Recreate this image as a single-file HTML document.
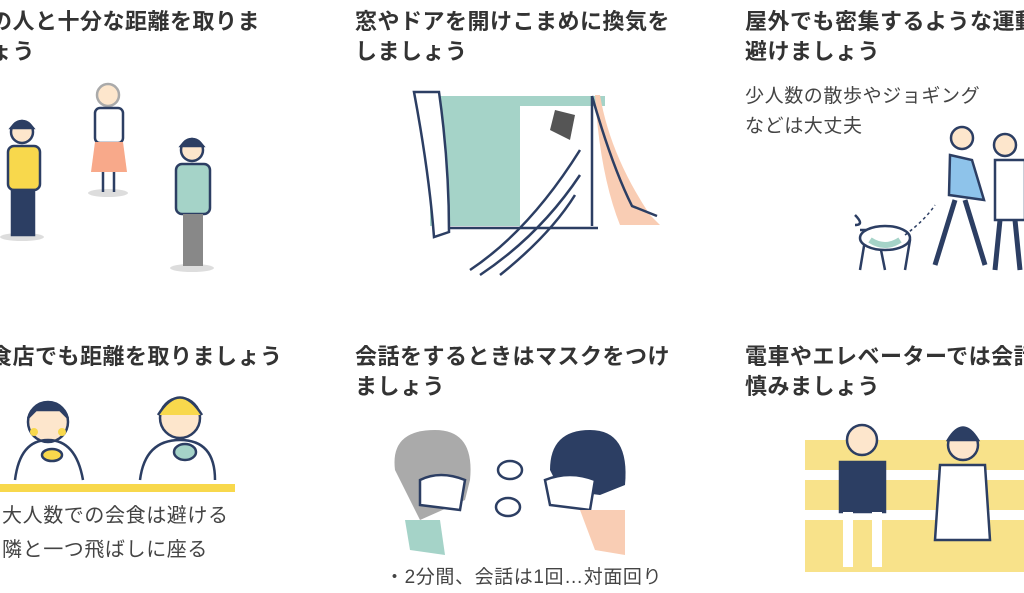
<!DOCTYPE html>
<html><head><meta charset="utf-8"><style>
body{margin:0;width:1024px;height:572px;overflow:hidden;background:#fff;position:relative;font-family:"Liberation Sans","Noto Sans CJK JP",sans-serif;color:#333}
.t{position:absolute;font-size:22px;font-weight:bold;line-height:30px;white-space:nowrap;letter-spacing:0.5px}
.s{position:absolute;font-size:19px;line-height:30px;white-space:nowrap;color:#444;letter-spacing:0.6px}
svg{position:absolute;left:0;top:0}
</style></head><body>
<div class="t" style="left:-10px;top:7px">の人と十分な距離を取りま<br>ょう</div>
<div class="t" style="left:355px;top:7px">窓やドアを開けこまめに換気を<br>しましょう</div>
<div class="t" style="left:745px;top:7px">屋外でも密集するような運動<br>避けましょう</div>
<div class="s" style="left:745px;top:82px">少人数の散歩やジョギング<br>などは大丈夫</div>
<div class="t" style="left:-10px;top:342px">食店でも距離を取りましょう</div>
<div class="t" style="left:355px;top:342px">会話をするときはマスクをつけ<br>ましょう</div>
<div class="t" style="left:745px;top:342px">電車やエレベーターでは会話<br>慎みましょう</div>
<div class="s" style="left:2px;top:499px;font-size:20px;line-height:34px">大人数での会食は避ける<br>隣と一つ飛ばしに座る</div>
<div class="s" style="left:385px;top:563px">・2分間、会話は1回…対面回り</div>
<svg width="1024" height="572" fill="none" stroke="#2c3e63" stroke-width="2.5">
<ellipse cx="22" cy="237" rx="22" ry="4" fill="#ddd" stroke="none"/>
<ellipse cx="108" cy="193" rx="20" ry="4" fill="#ddd" stroke="none"/>
<ellipse cx="192" cy="268" rx="22" ry="4" fill="#ddd" stroke="none"/>
<circle cx="22" cy="132" r="11" fill="#fde6cc"/><path d="M11 128q11-14 22 0z" fill="#2c3e63"/>
<rect x="8" y="146" width="32" height="44" rx="6" fill="#f8d84c"/>
<rect x="12" y="190" width="22" height="45" fill="#2c3e63"/>
<circle cx="108" cy="95" r="11" fill="#fde6cc" stroke="#aaa"/>
<rect x="95" y="108" width="28" height="35" rx="5" fill="#fff"/>
<path d="M95 142h28l4 30h-36z" fill="#f8a98a" stroke="none"/>
<path d="M103 172v20M114 172v20"/>
<circle cx="192" cy="150" r="11" fill="#fde6cc"/><path d="M181 146q11-14 22 0z" fill="#2c3e63"/>
<rect x="176" y="164" width="34" height="50" rx="6" fill="#a5d3c8"/>
<rect x="183" y="214" width="20" height="52" fill="#888" stroke="none"/>
<rect x="420" y="95" width="200" height="158" fill="#fff" stroke="none"/>
<rect x="430" y="96" width="90" height="130" fill="#a5d3c8" stroke="none"/>
<rect x="510" y="96" width="95" height="10" fill="#a5d3c8" stroke="none"/>
<path d="M592 96v130M438 228h160"/>
<path d="M414 92q15 80 20 145l15-5q0-70-10-140z" fill="#fff"/>
<path d="M600 95q10 60 50 120l10 10-40 0q-20-50-25-130z" fill="#f9cdb4" stroke="none"/>
<path d="M592 96q20 70 40 110l25 10"/>
<path d="M555 110l20 5-5 25-20-10z" fill="#555" stroke="none"/>
<path d="M470 270q60-40 110-120M480 275q60-40 100-100M500 275q50-40 75-80"/>
<circle cx="962" cy="138" r="11" fill="#fde6cc"/>
<path d="M950 155l22 5 12 40-35-5z" fill="#8ec3ea"/>
<path d="M955 200l-20 65M965 200l20 65" stroke-width="5"/>
<circle cx="1005" cy="145" r="11" fill="#fde6cc"/>
<path d="M995 160h30v60h-30z" fill="#fff"/>
<path d="M1000 220l-5 50M1015 220l5 50" stroke-width="5"/>
<path d="M855 215q10 10 0 10 M860 230h40l10 10-5 30M865 240l-5 30M880 245l5 25" fill="#fff"/>
<ellipse cx="885" cy="238" rx="25" ry="12" fill="#fff"/>
<path d="M870 240q15 10 30 0" stroke="#a5d3c8" stroke-width="6"/>
<path d="M905 235q20-15 30-30" stroke-width="1.5" stroke-dasharray="3 3"/>
<path d="M-10 488h245" stroke="#f8d84c" stroke-width="8"/>
<circle cx="48" cy="422" r="20" fill="#fde6cc"/><path d="M28 418q20-30 40 0l-8-8-24 0z" fill="#2c3e63"/>
<circle cx="34" cy="432" r="4" fill="#f8d84c" stroke="none"/><circle cx="62" cy="432" r="4" fill="#f8d84c" stroke="none"/>
<path d="M15 480q5-40 33-40t35 40"/>
<ellipse cx="52" cy="455" rx="10" ry="6" fill="#f8d84c"/>
<circle cx="180" cy="418" r="20" fill="#fde6cc"/><path d="M158 415q22-35 44 0" fill="#f8d84c"/>
<path d="M140 480q5-40 40-40t35 40"/>
<ellipse cx="185" cy="452" rx="11" ry="8" fill="#a5d3c8"/>
<path d="M395 470q-5-40 40-40q40 0 35 50l-5 20-45 20z" fill="#aaa" stroke="none"/>
<path d="M420 480q20-10 45 0l-5 30-40-5z" fill="#fff"/>
<path d="M405 520h35l5 35-35-5z" fill="#a5d3c8" stroke="none"/>
<path d="M590 430q-40 0-40 40l10 20 40 5 25-10q5-55-35-55z" fill="#2c3e63" stroke="none"/>
<path d="M545 480q25-10 50 0l-5 30-40-5z" fill="#fff"/>
<path d="M580 510l45 0 0 45-30-5z" fill="#f9cdb4" stroke="none"/>
<ellipse cx="510" cy="470" rx="12" ry="9" fill="#fff"/><ellipse cx="508" cy="507" rx="12" ry="9" fill="#fff"/>
<rect x="805" y="440" width="219" height="30" fill="#f8e28a" stroke="none"/>
<rect x="805" y="480" width="219" height="30" fill="#f8e28a" stroke="none"/>
<rect x="805" y="520" width="219" height="52" fill="#f8e28a" stroke="none"/>
<circle cx="862" cy="440" r="15" fill="#fde6cc"/>
<path d="M840 462h45v50h-45z" fill="#2c3e63"/>
<path d="M848 512v55M877 512v55" stroke-width="10" stroke="#fff"/>
<circle cx="963" cy="445" r="15" fill="#fde6cc"/><path d="M948 440q15-25 30 0z" fill="#2c3e63"/>
<path d="M940 465h45l5 75h-55z" fill="#fff"/>
</svg>
</body></html>
